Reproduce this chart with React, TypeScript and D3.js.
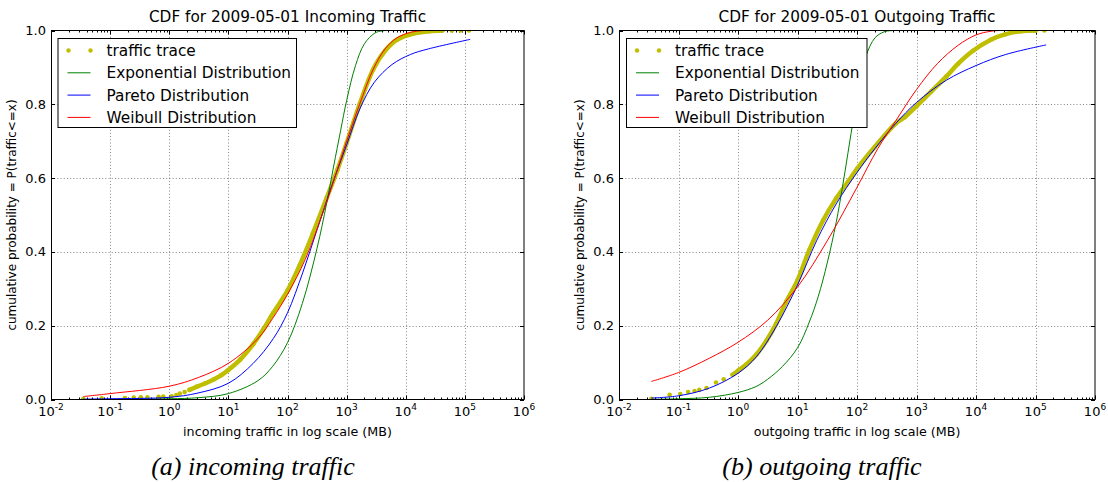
import React, { useRef, useEffect } from "react";
import * as d3 from "d3";

type Pt = [number, number];

// axis ticks
const xTicks = [0.01, 0.1, 1, 10, 100, 1000, 10000, 100000, 1000000];
const xTickPowers = ["-2", "-1", "0", "1", "2", "3", "4", "5", "6"];
const yTicks = [0, 0.2, 0.4, 0.6, 0.8, 1.0];
const yTickLabels = ["0.0", "0.2", "0.4", "0.6", "0.8", "1.0"];
const legendNames = ["traffic trace", "Exponential Distribution", "Pareto Distribution", "Weibull Distribution"];

// ---- incoming traffic (MB, cumulative probability)
const inTraceDots: Pt[] = [
  [0.035, 0.001], [0.072, 0.003], [0.178, 0.004], [0.251, 0.005], [0.331, 0.006],
  [0.427, 0.006], [0.661, 0.007], [0.794, 0.008], [1.1, 0.009], [1.32, 0.012],
  [1.51, 0.016], [1.82, 0.02], [60000, 1.0], [85000, 1.0], [117500, 1.0]
];
const inTrace: Pt[] = [
  [2.2, 0.026], [2.95, 0.035], [4.1, 0.044], [5.62, 0.054], [7.6, 0.066], [10, 0.08],
  [15.8, 0.108], [26.3, 0.15], [38.9, 0.19], [57.5, 0.235], [100, 0.295], [162, 0.365],
  [269, 0.45], [457, 0.545], [708, 0.625], [1000, 0.695], [1660, 0.8], [2818, 0.895],
  [4467, 0.945], [7080, 0.975], [13490, 0.992], [25000, 0.998], [41690, 1.0]
];
const inExp: Pt[] = [
  [0.035, 0.0001], [0.1, 0.0002], [1, 0.002], [3.16, 0.005], [10, 0.016], [31.6, 0.051],
  [56.2, 0.09], [100, 0.154], [178, 0.26], [316, 0.41], [457, 0.53], [600, 0.63],
  [794, 0.73], [1000, 0.81], [1413, 0.905], [2000, 0.964], [3000, 0.993], [4000, 0.999],
  [6310, 1.0], [123000, 1.0]
];
const inPareto: Pt[] = [
  [0.035, 0.001], [0.1, 0.002], [1, 0.006], [2.95, 0.017], [10, 0.044], [26.3, 0.098],
  [57.5, 0.165], [100, 0.235], [182, 0.345], [316, 0.46], [562, 0.58], [1000, 0.69],
  [1698, 0.79], [2951, 0.86], [5888, 0.908], [12000, 0.935], [23990, 0.95], [123000, 0.976]
];
const inWeibull: Pt[] = [
  [0.035, 0.008], [0.1, 0.016], [1, 0.036], [3.16, 0.06], [10, 0.098], [31.6, 0.165],
  [56.2, 0.22], [100, 0.285], [200, 0.38], [447, 0.53], [1000, 0.7], [1660, 0.8],
  [2818, 0.895], [4467, 0.95], [7080, 0.98], [12000, 0.995], [20000, 1.0]
];

// ---- outgoing traffic
const outTraceDots: Pt[] = [
  [0.035, 0.002], [0.071, 0.013], [0.107, 0.015], [0.145, 0.02], [0.186, 0.023],
  [0.224, 0.026], [0.295, 0.031], [0.427, 0.046], [0.575, 0.055],
  [70000, 1.0], [100000, 1.0], [141000, 1.0]
];
const outTrace: Pt[] = [
  [0.813, 0.067], [1, 0.078], [1.38, 0.095], [2.04, 0.122], [3.02, 0.16], [4.37, 0.205],
  [6.46, 0.265], [10, 0.323], [15.8, 0.405], [26.9, 0.485], [44.7, 0.545], [70.8, 0.59],
  [100, 0.625], [200, 0.685], [447, 0.748], [631, 0.765], [1000, 0.795], [1778, 0.835],
  [3162, 0.875], [5012, 0.91], [8913, 0.945], [17800, 0.975], [31600, 0.99],
  [56200, 0.998], [100000, 1.0]
];
const outExp: Pt[] = [
  [0.035, 0.0005], [0.1, 0.002], [0.331, 0.006], [1, 0.019], [2, 0.035], [3.16, 0.055],
  [5.62, 0.09], [10, 0.14], [15.8, 0.21], [22.4, 0.28], [31.6, 0.37], [44.7, 0.48],
  [56.2, 0.57], [70.8, 0.67], [89.1, 0.77], [112, 0.86], [141, 0.93], [200, 0.98],
  [282, 0.996], [400, 1.0], [154000, 1.0]
];
const outPareto: Pt[] = [
  [0.035, 0.004], [0.1, 0.01], [0.331, 0.031], [1, 0.071], [2.04, 0.116], [4.37, 0.197],
  [10, 0.31], [20.9, 0.43], [44.7, 0.53], [100, 0.615], [200, 0.68], [447, 0.748],
  [1000, 0.805], [3162, 0.865], [10000, 0.905], [31600, 0.935], [151000, 0.961]
];
const outWeibull: Pt[] = [
  [0.035, 0.049], [0.1, 0.073], [0.331, 0.112], [1, 0.155], [3.16, 0.215], [10, 0.305],
  [31.6, 0.43], [100, 0.575], [224, 0.68], [447, 0.755], [1000, 0.84], [2239, 0.91],
  [5012, 0.96], [10000, 0.988], [17800, 0.998], [25100, 1.0]
];

const YELLOW = "#bfbf00";
const GREEN = "#008000";
const BLUE = "#0000ff";
const RED = "#ff0000";
const FONT = "DejaVu Sans, sans-serif";

interface PanelProps {
  id: string;
  left: number;
  right: number;
  legendX: number;
  legendW: number;
  title: string;
  xLabel: string;
  traceDots: Pt[];
  trace: Pt[];
  expo: Pt[];
  pareto: Pt[];
  weibull: Pt[];
}

function Panel(props: PanelProps) {
  const anchor = useRef<SVGGElement>(null);

  useEffect(() => {
    const { id, left, right, legendX, legendW, title, xLabel } = props;
    const top = 30.5;
    const bottom = 399.5;
    const g = d3.select(anchor.current);
    g.selectAll("*").remove();

    const x = d3.scaleLog().domain([0.01, 1e6]).range([left, right]);
    const y = d3.scaleLinear().domain([0, 1]).range([bottom, top]);

    g.append("clipPath")
      .attr("id", id)
      .append("rect")
      .attr("x", left)
      .attr("y", top)
      .attr("width", right - left)
      .attr("height", bottom - top);

    // dotted grid
    const grid = g.append("g").attr("stroke", "#000").attr("stroke-opacity", 0.6)
      .attr("stroke-width", 0.8).attr("stroke-dasharray", "1,2.2");
    xTicks.slice(1, -1).forEach(v => {
      const px = Math.round(x(v)) + 0.5;
      grid.append("line").attr("x1", px).attr("x2", px).attr("y1", top).attr("y2", bottom);
    });
    yTicks.slice(1, -1).forEach(v => {
      const py = Math.round(y(v)) + 0.5;
      grid.append("line").attr("x1", left).attr("x2", right).attr("y1", py).attr("y2", py);
    });

    // ticks (inward, all four sides)
    const ticks = g.append("g").attr("stroke", "#000").attr("stroke-width", 1);
    xTicks.forEach((v, i) => {
      const px = Math.round(x(v)) + 0.5;
      ticks.append("line").attr("x1", px).attr("x2", px).attr("y1", bottom).attr("y2", bottom - 4);
      ticks.append("line").attr("x1", px).attr("x2", px).attr("y1", top).attr("y2", top + 4);
      if (i < xTicks.length - 1) {
        d3.range(2, 10).forEach(k => {
          const mx = Math.round(x(k * v)) + 0.5;
          ticks.append("line").attr("x1", mx).attr("x2", mx).attr("y1", bottom).attr("y2", bottom - 2);
          ticks.append("line").attr("x1", mx).attr("x2", mx).attr("y1", top).attr("y2", top + 2);
        });
      }
    });
    yTicks.forEach(v => {
      const py = Math.round(y(v)) + 0.5;
      ticks.append("line").attr("x1", left).attr("x2", left + 4).attr("y1", py).attr("y2", py);
      ticks.append("line").attr("x1", right).attr("x2", right - 4).attr("y1", py).attr("y2", py);
    });

    // tick labels
    xTicks.forEach((v, i) => {
      const t = g.append("text")
        .attr("x", x(v))
        .attr("y", 416)
        .attr("text-anchor", "middle")
        .attr("font-family", FONT)
        .attr("font-size", 13)
        .attr("fill", "#000");
      t.append("tspan").text("10");
      t.append("tspan").attr("dy", -6).attr("font-size", 9).text(xTickPowers[i]);
    });
    yTicks.forEach((v, i) => {
      g.append("text")
        .attr("x", left - 5)
        .attr("y", y(v) + 4.5)
        .attr("text-anchor", "end")
        .attr("font-family", FONT)
        .attr("font-size", 13)
        .attr("fill", "#000")
        .text(yTickLabels[i]);
    });

    // curves
    const line = d3.line<Pt>().x(d => x(d[0])).y(d => y(d[1])).curve(d3.curveCatmullRom.alpha(0.5));
    const plot = g.append("g").attr("clip-path", `url(#${id})`);

    plot.append("path")
      .attr("d", line(props.trace) as string)
      .attr("fill", "none")
      .attr("stroke", YELLOW)
      .attr("stroke-width", 4.5)
      .attr("stroke-linecap", "round")
      .attr("stroke-linejoin", "round");
    plot.selectAll(".dot")
      .data(props.traceDots.concat(props.trace))
      .enter()
      .append("circle")
      .attr("cx", d => x(d[0]))
      .attr("cy", d => y(d[1]))
      .attr("r", 2.3)
      .attr("fill", YELLOW);

    [
      { data: props.expo, color: GREEN },
      { data: props.pareto, color: BLUE },
      { data: props.weibull, color: RED }
    ].forEach(s => {
      plot.append("path")
        .attr("d", line(s.data) as string)
        .attr("fill", "none")
        .attr("stroke", s.color)
        .attr("stroke-width", 1);
    });

    // frame
    g.append("rect")
      .attr("x", left + 0.5)
      .attr("y", top)
      .attr("width", right - left - 0.5)
      .attr("height", bottom - top)
      .attr("fill", "none")
      .attr("stroke", "#000")
      .attr("stroke-width", 1);

    // legend
    const lg = g.append("g");
    lg.append("rect")
      .attr("x", legendX + 0.5)
      .attr("y", 38.5)
      .attr("width", legendW)
      .attr("height", 89)
      .attr("fill", "#fff")
      .attr("stroke", "#000")
      .attr("stroke-width", 1);
    const colors = [YELLOW, GREEN, BLUE, RED];
    legendNames.forEach((name, i) => {
      const ry = 50.5 + i * 22.3;
      if (i === 0) {
        [legendX + 11, legendX + 33].forEach(cx =>
          lg.append("circle").attr("cx", cx).attr("cy", ry).attr("r", 2.2).attr("fill", YELLOW)
        );
      } else {
        lg.append("line")
          .attr("x1", legendX + 10)
          .attr("x2", legendX + 33)
          .attr("y1", ry)
          .attr("y2", ry)
          .attr("stroke", colors[i])
          .attr("stroke-width", 1);
      }
      lg.append("text")
        .attr("x", legendX + 49)
        .attr("y", ry + 5.5)
        .attr("font-family", FONT)
        .attr("font-size", 15.3)
        .attr("fill", "#000")
        .text(name);
    });

    // titles and labels
    g.append("text")
      .attr("x", (left + right) / 2)
      .attr("y", 22)
      .attr("text-anchor", "middle")
      .attr("font-family", FONT)
      .attr("font-size", 15.3)
      .attr("fill", "#000")
      .text(title);
    g.append("text")
      .attr("x", (left + right) / 2)
      .attr("y", 436)
      .attr("text-anchor", "middle")
      .attr("font-family", FONT)
      .attr("font-size", 12.7)
      .attr("fill", "#000")
      .text(xLabel);
    g.append("text")
      .attr("transform", `translate(${left - 35}, ${(top + bottom) / 2}) rotate(-90)`)
      .attr("text-anchor", "middle")
      .attr("font-family", FONT)
      .attr("font-size", 12)
      .attr("fill", "#000")
      .text("cumulative probability = P(traffic<=x)");
  }, []);

  return <g ref={anchor} />;
}

export default function App() {
  return (
    <div style={{ position: "absolute", left: 0, top: 0 }}>
      <svg width={1108} height={482} style={{ display: "block", background: "#fff" }}>
        <Panel
          id="clipIn"
          left={51}
          right={524}
          legendX={57.5}
          legendW={238.5}
          title="CDF for 2009-05-01 Incoming Traffic"
          xLabel="incoming traffic in log scale (MB)"
          traceDots={inTraceDots}
          trace={inTrace}
          expo={inExp}
          pareto={inPareto}
          weibull={inWeibull}
        />
        <Panel
          id="clipOut"
          left={619}
          right={1095}
          legendX={626}
          legendW={240.5}
          title="CDF for 2009-05-01 Outgoing Traffic"
          xLabel="outgoing traffic in log scale (MB)"
          traceDots={outTraceDots}
          trace={outTrace}
          expo={outExp}
          pareto={outPareto}
          weibull={outWeibull}
        />
        <text x={253} y={475} textAnchor="middle" fontFamily="Liberation Serif, Times New Roman, serif"
          fontStyle="italic" fontSize={26}>(a) incoming traffic</text>
        <text x={822} y={475} textAnchor="middle" fontFamily="Liberation Serif, Times New Roman, serif"
          fontStyle="italic" fontSize={26}>(b) outgoing traffic</text>
      </svg>
    </div>
  );
}
